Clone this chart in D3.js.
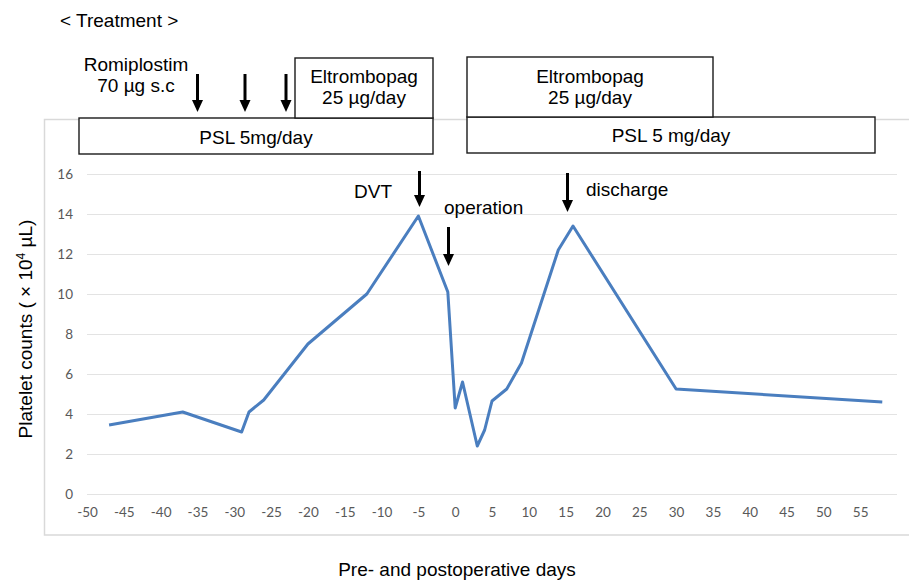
<!DOCTYPE html>
<html>
<head>
<meta charset="utf-8">
<script src="https://cdn.jsdelivr.net/npm/d3@7"></script>
<style>
  html, body { margin: 0; padding: 0; background: #fff; }
  svg { display: block; }
</style>
</head>
<body>
<svg id="chart" width="909" height="583"></svg>
<script>
// ---- data ----
const days      = [-47, -37, -29, -28, -26, -20, -12, -5, -1, 0, 1, 3, 4, 5, 7, 9, 14, 16, 30, 58];
const platelets = [3.45, 4.1, 3.1, 4.1, 4.7, 7.5, 10.0, 13.9, 10.1, 4.3, 5.6, 2.4, 3.2, 4.65, 5.25, 6.55, 12.2, 13.4, 5.25, 4.6];
const xTicks = [-50, -45, -40, -35, -30, -25, -20, -15, -10, -5, 0, 5, 10, 15, 20, 25, 30, 35, 40, 45, 50, 55];
const yTicks = [0, 2, 4, 6, 8, 10, 12, 14, 16];

const svg = d3.select("#chart");
const annFont = "'Liberation Sans', Arial, sans-serif";
const tickFont = "Lato, 'Open Sans', sans-serif";
const annSize = 19;

const x = d3.scaleLinear().domain([-50, 60]).range([87, 897]);
const y = d3.scaleLinear().domain([0, 16]).range([494, 174]);

// chart frame
svg.append("rect")
  .attr("x", 44.5).attr("y", 119.5).attr("width", 880).attr("height", 415.5)
  .attr("fill", "none").attr("stroke", "#d9d9d9").attr("stroke-width", 1.5);

// gridlines
const gy = d3.axisLeft(y).tickValues(yTicks).tickSize(-(897 - 87)).tickFormat("");
svg.append("g").attr("transform", "translate(87,0)").call(gy)
  .call(g => g.select(".domain").remove())
  .call(g => g.selectAll("line").attr("stroke", "#e3e3e3").attr("stroke-width", 1.2));

// y tick labels
const ya = d3.axisLeft(y).tickValues(yTicks).tickSize(0).tickPadding(0);
svg.append("g").attr("transform", "translate(73,0)").call(ya)
  .call(g => g.select(".domain").remove())
  .call(g => g.selectAll("text").attr("fill", "#595959").attr("font-size", 13.5)
    .attr("font-family", tickFont));

// x tick labels
const xa = d3.axisBottom(x).tickValues(xTicks).tickSize(0).tickPadding(0).tickFormat(d3.format("d"));
svg.append("g").attr("transform", "translate(0,507)").call(xa)
  .call(g => g.select(".domain").remove())
  .call(g => g.selectAll("text").attr("fill", "#595959").attr("font-size", 13.5)
    .attr("font-family", tickFont).attr("dy", "0.71em")
    .text(d => d < 0 ? "-" + Math.abs(d) : d));

// line
const pts = days.map((d, i) => [d, platelets[i]]);
svg.append("path")
  .datum(pts)
  .attr("fill", "none")
  .attr("stroke", "#4a7ebf")
  .attr("stroke-width", 3)
  .attr("stroke-linejoin", "round")
  .attr("d", d3.line().x(d => x(d[0])).y(d => y(d[1])));

// ---- annotations ----
function box(x0, y0, x1, y1) {
  svg.append("rect").attr("x", x0).attr("y", y0).attr("width", x1 - x0).attr("height", y1 - y0)
    .attr("fill", "#fff").attr("stroke", "#1a1a1a").attr("stroke-width", 1.4);
}
function txt(tx, ty, s, anchor) {
  svg.append("text").attr("x", tx).attr("y", ty).attr("text-anchor", anchor || "middle")
    .attr("font-family", annFont).attr("font-size", annSize).attr("fill", "#000").text(s);
}
function arrow(ax, y0, y1) {
  const hh = 12, hw = 5.5;
  svg.append("line").attr("x1", ax).attr("x2", ax).attr("y1", y0).attr("y2", y1 - hh + 1)
    .attr("stroke", "#000").attr("stroke-width", 3);
  svg.append("path").attr("d", `M${ax - hw},${y1 - hh} L${ax + hw},${y1 - hh} L${ax},${y1} Z`)
    .attr("fill", "#000");
}

box(79, 118, 433, 154);
box(295, 58, 433, 118);
box(467, 117, 875, 153);
box(467, 57, 713, 117);

txt(60, 27, "< Treatment >", "start");
txt(136, 71, "Romiplostim");
txt(136, 92, "70 µg s.c");
txt(364, 83, "Eltrombopag");
txt(364, 104, "25 µg/day");
txt(256, 144, "PSL 5mg/day");
txt(590, 83, "Eltrombopag");
txt(590, 104, "25 µg/day");
txt(671, 142, "PSL 5 mg/day");
txt(354, 198, "DVT", "start");
txt(444, 214, "operation", "start");
txt(586, 196, "discharge", "start");

arrow(197.5, 74, 112);
arrow(245, 74, 112);
arrow(286, 74, 112);
arrow(419.5, 171, 207);
arrow(448.5, 227, 266);
arrow(567.5, 173, 212);

// axis titles
const yt = svg.append("text").attr("transform", "translate(32,329) rotate(-90)")
  .attr("text-anchor", "middle").attr("font-family", annFont).attr("font-size", annSize).attr("fill", "#000");
yt.append("tspan").text("Platelet counts ( × 10");
yt.append("tspan").attr("font-size", 12).attr("dy", -7).text("4");
yt.append("tspan").attr("dy", 7).text(" µL)");

txt(457, 576, "Pre- and postoperative days");
</script>
</body>
</html>
